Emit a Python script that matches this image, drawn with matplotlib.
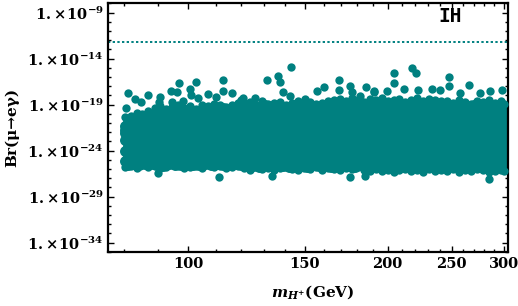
import numpy as np
import matplotlib
matplotlib.use('Agg')
import matplotlib.pyplot as plt
from matplotlib.ticker import FixedLocator, NullFormatter

TEAL = '#008080'
plt.rcParams.update({
    'mathtext.fontset': 'custom',
    'mathtext.rm': 'DejaVu Serif:bold',
    'mathtext.it': 'DejaVu Serif:italic:bold',
    'mathtext.bf': 'DejaVu Serif:bold',
    'mathtext.default': 'rm',
    'font.family': 'DejaVu Serif',
    'font.weight': 'bold',
})

# ---------------- data (m_H+ in GeV, log10 Br) ----------------
x_cols_a = [80.1, 81.8, 83.5, 85.2, 87.0, 88.9, 90.7, 92.6, 94.6, 96.6, 98.6, 100.7, 102.8, 105.0, 107.2,
            109.4, 111.7, 114.1, 116.5, 118.9, 121.4, 124.0, 126.6, 129.2, 131.9, 134.7, 137.6, 140.4,
            143.4, 146.4, 149.5, 152.6, 155.8, 159.1, 162.4, 165.9, 169.3, 172.9, 176.5, 180.2, 184.0,
            187.9, 191.8, 195.8, 200.0, 204.2, 208.4, 212.8, 217.3, 221.8, 226.5, 231.2, 236.1, 241.1,
            246.1, 251.3, 256.6, 262.0, 267.5, 273.1, 278.8, 284.7, 290.7, 296.8, 299.6]
x_cols_b = [81.0, 82.6, 84.3, 86.1, 87.9, 89.8, 91.6, 93.6, 95.6, 97.6, 99.6, 101.7, 103.9, 106.1, 108.3,
            110.5, 112.9, 115.3, 117.7, 120.1, 122.7, 125.3, 127.9, 130.5, 133.3, 136.1, 139.0, 141.9,
            144.9, 147.9, 151.0, 154.2, 157.4, 160.7, 164.1, 167.6, 171.1, 174.7, 178.3, 182.1, 185.9,
            189.8, 193.8, 197.9, 202.1, 206.3, 210.6, 215.0, 219.5, 224.1, 228.8, 233.6, 238.6, 243.6,
            248.7, 253.9, 259.3, 264.7, 270.3, 275.9, 281.7, 287.7, 293.7, 298.2]

logbr_r01 = [-20.4, -20.3, -19.9, -20.0, -19.7, -19.4, -19.2, -19.5, -19.3, -19.1, -19.4, -19.2, -19.5,
             -19.0, -19.2, -18.9, -19.1, -19.3, -19.0, -18.8,
             -18.8, -18.7, -19.0, -18.6, -18.9, -18.8, -18.7, -19.0, -18.8, -18.6, -18.9, -18.7, -18.9, -18.8, -18.6,
             -18.5, -18.4, -18.6, -18.3, -18.5, -18.7, -18.4, -18.5, -18.3, -18.6, -18.5, -18.4, -18.7, -18.5,
             -18.3, -18.6, -18.4, -18.5, -18.6,
             -18.6, -18.8, -18.5, -18.7, -18.9, -18.6, -18.7, -18.5, -18.8, -18.6, -18.9]
logbr_r02 = [-20.9, -20.6, -20.4, -20.3, -20.1, -19.9, -19.8, -20.0, -19.7, -19.8, -19.6, -19.9, -19.7,
             -19.6, -19.5, -19.7, -19.4, -19.6, -19.5, -19.3,
             -19.3, -19.2, -19.4, -19.1, -19.3, -19.2, -19.4, -19.3, -19.1, -19.2, -19.4, -19.2, -19.3, -19.1, -19.2,
             -19.0, -18.9, -19.1, -18.9, -19.0, -19.1, -18.9, -19.0, -18.8, -19.0, -19.1, -18.9, -19.0, -19.1,
             -18.9, -19.0, -18.9, -19.1, -19.0,
             -19.1, -19.2, -19.0, -19.2, -19.1, -19.3, -19.1, -19.2, -19.0, -19.2]
logbr_r03 = [-21.3, -21.1, -20.9, -20.8, -20.7, -20.4, -20.3, -20.5, -20.2, -20.4, -20.3, -20.2, -20.4,
             -20.1, -20.0, -20.2, -20.0, -20.1, -19.9, -20.0,
             -19.8, -19.7, -19.9, -19.8, -19.7, -19.9, -19.8, -19.7, -19.8, -19.9, -19.7, -19.8, -19.9, -19.7, -19.8,
             -19.5, -19.4, -19.6, -19.5, -19.4, -19.6, -19.5, -19.4, -19.5, -19.6, -19.4, -19.5, -19.6, -19.4,
             -19.5, -19.5, -19.4, -19.6, -19.5,
             -19.6, -19.7, -19.5, -19.6, -19.7, -19.6, -19.5, -19.7, -19.6, -19.5, -19.7]
logbr_r04 = [-21.7, -21.5, -21.3, -21.2, -21.0, -20.8, -20.9, -20.7, -20.8, -20.9, -20.7, -20.8, -20.9,
             -20.4, -20.3, -20.5, -20.2, -20.4, -20.3, -20.2, -20.4, -20.3, -20.1,
             -20.3, -20.2, -20.4, -20.3, -20.2, -20.3, -20.1, -20.2, -20.3, -20.1,
             -20.2, -20.0, -20.1, -20.2, -20.0, -20.1, -20.0, -20.2, -20.1, -20.0,
             -20.1, -20.2, -20.0, -20.1, -20.0, -20.1, -20.2, -20.0, -20.1, -20.0,
             -20.2, -20.1, -20.2, -20.0, -20.1, -20.2, -20.1, -20.0, -20.2, -20.1, -20.2]
logbr_r05 = [-22.1, -21.9, -21.8, -21.6, -21.5,
             -20.8, -20.7, -20.9, -20.6, -20.8, -20.7, -20.8, -20.9, -20.7, -20.6,
             -20.8, -20.7, -20.9, -20.8, -20.6, -20.7, -20.8, -20.7, -20.9, -20.8,
             -20.6, -20.8, -20.7, -20.9, -20.7, -20.8, -20.6, -20.7, -20.8, -20.9,
             -20.7, -20.8, -20.6, -20.7, -20.9, -20.8, -20.7, -20.8, -20.6, -20.7,
             -20.8, -20.9, -20.7, -20.6, -20.8, -20.7, -20.8, -20.9, -20.6, -20.7,
             -20.8, -20.7, -20.9, -20.8, -20.6, -20.7, -20.8, -20.7, -20.9, -20.8]
logbr_r06 = [-21.3, -21.2, -21.4, -21.3, -21.1, -21.3, -21.4, -21.2, -21.3, -21.4,
             -21.2, -21.3, -21.1, -21.4, -21.3, -21.2, -21.4, -21.3, -21.2, -21.3,
             -21.4, -21.2, -21.3, -21.1, -21.3, -21.4, -21.2, -21.3, -21.4, -21.2,
             -21.3, -21.1, -21.3, -21.2, -21.4, -21.3, -21.2, -21.4, -21.3, -21.1,
             -21.3, -21.4, -21.2, -21.3, -21.2, -21.4, -21.3, -21.1, -21.3, -21.2,
             -21.4, -21.3, -21.2, -21.3, -21.4, -21.2, -21.3, -21.1, -21.4, -21.3,
             -21.2, -21.3, -21.4, -21.2]
logbr_r07 = [-21.8, -21.9, -21.7, -21.9, -22.0, -21.8, -21.9, -21.7, -21.8, -22.0,
             -21.9, -21.8, -21.7, -21.9, -21.8, -22.0, -21.9, -21.8, -21.7, -21.9,
             -21.8, -22.0, -21.9, -21.7, -21.8, -21.9, -21.8, -22.0, -21.7, -21.9,
             -21.8, -21.9, -22.0, -21.8, -21.7, -21.9, -21.8, -21.9, -21.7, -22.0,
             -21.8, -21.9, -21.8, -21.7, -21.9, -22.0, -21.8, -21.9, -21.7, -21.8,
             -21.9, -22.0, -21.8, -21.7, -21.9, -21.8, -21.9, -22.0, -21.8, -21.7,
             -21.9, -21.8, -22.0, -21.9, -21.8]
logbr_r08 = [-22.4, -22.3, -22.5, -22.4, -22.3, -22.5, -22.4, -22.6, -22.3, -22.4,
             -22.5, -22.3, -22.4, -22.5, -22.4, -22.3, -22.6, -22.4, -22.5, -22.3,
             -22.4, -22.5, -22.3, -22.4, -22.6, -22.4, -22.3, -22.5, -22.4, -22.3,
             -22.5, -22.4, -22.6, -22.3, -22.4, -22.5, -22.4, -22.3, -22.5, -22.4,
             -22.3, -22.4, -22.6, -22.5, -22.3, -22.4, -22.5, -22.4, -22.3, -22.6,
             -22.4, -22.5, -22.3, -22.4, -22.5, -22.3, -22.4, -22.6, -22.4, -22.3,
             -22.5, -22.4, -22.3, -22.5]
logbr_r09 = [-22.9, -23.0, -22.8, -23.0, -22.9, -23.1, -22.9, -23.0, -22.8, -22.9,
             -23.0, -23.1, -22.9, -22.8, -23.0, -22.9, -23.0, -23.1, -22.9, -22.8,
             -23.0, -22.9, -23.1, -23.0, -22.8, -22.9, -23.0, -22.9, -23.1, -22.8,
             -22.9, -23.0, -22.9, -23.1, -23.0, -22.8, -22.9, -23.0, -22.9, -23.1,
             -22.8, -23.0, -22.9, -23.0, -23.1, -22.9, -22.8, -23.0, -22.9, -23.0,
             -23.1, -22.9, -22.8, -23.0, -22.9, -23.1, -23.0, -22.9, -22.8, -23.0,
             -22.9, -23.1, -23.0, -22.9, -22.8]
logbr_r10 = [-23.5, -23.4, -23.6, -23.5, -23.4, -23.6, -23.5, -23.3, -23.5, -23.6,
             -23.4, -23.5, -23.6, -23.4, -23.5, -23.3, -23.5, -23.6, -23.4, -23.5,
             -23.6, -23.5, -23.4, -23.5, -23.3, -23.6, -23.5, -23.4, -23.5, -23.6,
             -23.4, -23.5, -23.6, -23.5, -23.4, -23.3, -23.5, -23.6, -23.4, -23.5,
             -23.5, -23.6, -23.4, -23.5, -23.3, -23.5, -23.6, -23.4, -23.5, -23.6,
             -23.4, -23.5, -23.3, -23.6, -23.5, -23.4, -23.5, -23.6, -23.4, -23.5,
             -23.6, -23.4, -23.5, -23.5]
logbr_r11 = [-24.0, -24.1, -23.9, -24.1, -24.0, -24.2, -24.0, -24.1, -23.9, -24.0,
             -24.1, -24.2, -24.0, -23.9, -24.1, -24.0, -24.1, -24.2, -24.0, -23.9,
             -24.1, -24.0, -24.2, -24.1, -23.9, -24.0, -24.1, -24.0, -24.2, -23.9,
             -24.0, -24.1, -24.0, -24.2, -24.1, -23.9, -24.0, -24.1, -24.0, -24.2,
             -23.9, -24.1, -24.0, -24.1, -24.2, -24.0, -23.9, -24.1, -24.0, -24.1,
             -24.2, -24.0, -23.9, -24.1, -24.0, -24.2, -24.1, -24.0, -23.9, -24.1,
             -24.0, -24.2, -24.1, -24.0, -23.9]
logbr_r12 = [-24.6, -24.5, -24.7, -24.6, -24.5, -24.7, -24.6, -24.4, -24.6, -24.7,
             -24.5, -24.6, -24.7, -24.5, -24.6, -24.4, -24.6, -24.7, -24.5, -24.6,
             -24.7, -24.6, -24.5, -24.6, -24.4, -24.7, -24.6, -24.5, -24.6, -24.7,
             -24.5, -24.6, -24.7, -24.6, -24.5, -24.4, -24.6, -24.7, -24.5, -24.6,
             -24.6, -24.7, -24.5, -24.6, -24.4, -24.6, -24.7, -24.5, -24.6, -24.7,
             -24.5, -24.6, -24.4, -24.7, -24.6, -24.5, -24.6, -24.7, -24.5, -24.6,
             -24.7, -24.5, -24.6, -24.6]
logbr_r13 = [-25.1, -25.2, -25.0, -25.2, -25.1, -25.3, -25.1, -25.2, -25.0, -25.1,
             -25.2, -25.3, -25.1, -25.0, -25.2, -25.1, -25.2, -25.3, -25.1, -25.0,
             -25.2, -25.1, -25.3, -25.2, -25.0, -25.1, -25.2, -25.1, -25.3, -25.0,
             -25.1, -25.2, -25.1, -25.3, -25.2, -25.0, -25.1, -25.2, -25.1, -25.3,
             -25.0, -25.2, -25.1, -25.2, -25.3, -25.1, -25.0, -25.2, -25.1, -25.2,
             -25.3, -25.1, -25.0, -25.2, -25.1, -25.3, -25.2, -25.1, -25.0, -25.2,
             -25.1, -25.3, -25.2, -25.1, -25.0]
logbr_r14 = [-25.6, -25.5, -25.6, -25.5, -25.5, -25.6, -25.7, -25.5, -25.6, -25.6,
             -25.5, -25.6, -25.6, -25.5, -25.6, -25.5, -25.6, -25.6, -25.5, -25.6,
             -25.6, -25.7, -25.8, -25.6, -25.7, -25.6, -25.7, -25.8, -25.6, -25.7,
             -25.8, -25.6, -25.7, -25.6, -25.8, -25.7, -25.6, -25.7, -25.8, -25.6,
             -25.7, -25.6, -25.8, -25.7, -25.6, -25.7, -25.8, -25.6, -25.7, -25.6,
             -25.7, -25.8, -25.6, -25.7, -25.6, -25.8, -25.7, -25.6, -25.7, -25.8,
             -25.6, -25.7, -25.8, -25.7]
logbr_r15 = [-25.8, -25.7, -25.9, -25.6, -25.8, -25.7, -25.9, -25.8, -25.6, -25.7,
             -25.9, -25.8, -25.7, -25.9, -25.6, -25.8, -25.7, -25.9, -25.8, -25.7,
             -25.9, -26.1, -25.8, -26.0, -25.9, -26.1, -25.9, -25.8, -26.0, -26.1,
             -25.9, -26.0, -25.8, -26.1, -25.9, -26.0, -26.1, -25.9, -26.0, -25.8,
             -26.1, -26.2, -26.0, -26.2, -26.1, -26.3, -26.1, -26.0, -26.2, -26.1,
             -26.3, -26.0, -26.2, -26.1, -26.2, -26.0, -26.3, -26.1, -26.2, -26.0,
             -26.1, -26.3, -26.2, -26.1, -26.2]

x_out = [81.1, 83.0, 84.9, 86.9, 90.5, 90.2, 96.7, 102.7, 94.1, 96.2, 100.6, 101.0, 107.1, 112.7, 112.8,
         116.5, 80.6, 94.3, 98.2, 103.4, 110.2, 120.2, 90.0, 111.3,
         142.8, 131.4, 136.8, 137.6, 138.9, 169.1, 160.0, 156.3, 175.6, 176.6, 185.6, 168.6, 181.8, 190.4,
         150.1, 142.5, 126.1, 121.1, 133.7, 185.0, 175.6,
         217.6, 220.9, 204.6, 204.6, 247.7, 247.2, 265.0, 222.6, 211.6, 233.3, 240.3, 190.4, 199.6, 276.0,
         285.7, 297.6, 257.4, 284.1]
logbr_out = [-17.74, -18.39, -18.76, -17.96, -18.22, -18.76, -16.66, -16.52, -17.57, -17.63, -17.31, -17.93,
             -17.85, -16.38, -17.57, -17.74, -19.37, -18.76, -18.65, -18.28, -18.18, -18.47, -26.49, -26.9,
             -14.92, -16.38, -15.87, -16.52, -17.63, -16.38, -17.13, -17.57, -17.03, -17.63, -17.09, -17.38,
             -18.11, -17.63, -18.39, -18.11, -18.28, -18.28, -26.79, -26.79, -26.93,
             -15.03, -15.57, -15.57, -16.66, -16.0, -17.03, -16.84, -17.38, -17.31, -17.31, -17.38, -17.57,
             -17.57, -17.74, -17.57, -17.38, -17.74, -27.15]

meg_bound = 5.7e-13

x_ticks = [100, 150, 200, 250, 300]
x_minor = [80, 90, 110, 120, 130, 140, 160, 170, 180, 190, 210, 220, 230, 240, 260, 270, 280, 290]
y_tick_exp = [-9, -14, -19, -24, -29, -34]

# ---------------- assemble ----------------
edge_rows = [(x_cols_a, logbr_r01), (x_cols_a, logbr_r15), (x_out, logbr_out)]
core_rows = [(x_cols_b, logbr_r02), (x_cols_a, logbr_r03), (x_cols_b, logbr_r04),
             (x_cols_a, logbr_r05), (x_cols_b, logbr_r06), (x_cols_a, logbr_r07), (x_cols_b, logbr_r08),
             (x_cols_a, logbr_r09), (x_cols_b, logbr_r10), (x_cols_a, logbr_r11), (x_cols_b, logbr_r12),
             (x_cols_a, logbr_r13), (x_cols_b, logbr_r14)]


def collect(pairs):
    xs, ys = [], []
    for xc, r in pairs:
        n = min(len(xc), len(r))
        xs.extend(xc[:n]); ys.extend(r[:n])
    return np.array(xs), 10.0 ** np.array(ys)


xe, ye = collect(edge_rows)
xc_, yc_ = collect(core_rows)

fig = plt.figure(figsize=(5.18, 3.06), dpi=100)
ax = fig.add_axes([108 / 518, 1 - 251.7 / 306, 400 / 518, (251.7 - 3.3) / 306])
ax.set_xscale('log'); ax.set_yscale('log')

ax.axhline(meg_bound, color=TEAL, lw=1.4, ls=(0, (1.2, 1.2)), zorder=1)
ax.scatter(xc_, yc_, s=62, color=TEAL, linewidths=0, zorder=2)
ax.scatter(xe, ye, s=36, color=TEAL, linewidths=0, zorder=3)

ax.set_xlim(75.6, 304)
ax.set_ylim(1e-35, 1e-8)

ax.xaxis.set_major_locator(FixedLocator(x_ticks))
ax.xaxis.set_minor_locator(FixedLocator(x_minor))
ax.set_xticklabels([str(t) for t in x_ticks])
ax.xaxis.set_minor_formatter(NullFormatter())

ax.yaxis.set_major_locator(FixedLocator([10.0 ** e for e in y_tick_exp]))
ax.yaxis.set_minor_locator(FixedLocator([10.0 ** e for e in range(-35, -7)]))
ax.set_yticklabels([r'$1.\!\times\!10^{%d}$' % e for e in y_tick_exp])
ax.yaxis.set_minor_formatter(NullFormatter())

ax.tick_params(which='both', direction='in', top=True, right=True, width=1.0, labelsize=10.5)
ax.tick_params(which='major', length=4)
ax.tick_params(which='minor', length=2.2)
ax.tick_params(axis='y', which='major', pad=3)
ax.tick_params(axis='x', which='major', pad=4)
for sp in ax.spines.values():
    sp.set_linewidth(1.6)

ax.text(0.855, 0.945, 'IH', transform=ax.transAxes, ha='center', va='center',
        family='DejaVu Sans Mono', weight='bold', fontsize=14)

fig.text(12.5 / 518, 1 - 127 / 306, 'Br(μ→eγ)', rotation=90, ha='center', va='center',
         fontsize=11, weight='bold')
fig.text(313 / 518, 1 - 292 / 306, r'$\mathit{m_{H^{+}}}$(GeV)', ha='center', va='center',
         fontsize=11, weight='bold')

fig.savefig('out.png', dpi=100)
